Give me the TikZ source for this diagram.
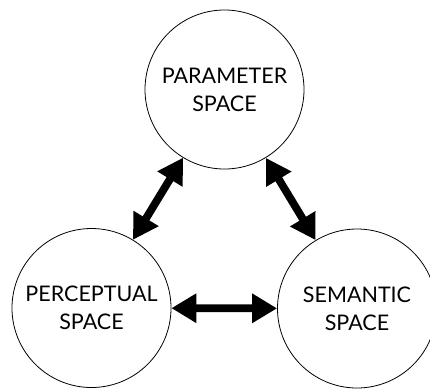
\documentclass[tikz,border=0pt]{standalone}
\usepackage{fontspec}
\setmainfont{Lato}
\usetikzlibrary{arrows.meta}
\begin{document}
\begin{tikzpicture}[x=1pt,y=-1pt,
  space/.style={circle,draw=black,line width=0.8pt,minimum size=159pt,inner sep=0pt,
    align=center,font=\fontsize{21.5}{28}\selectfont},
  bigarrow/.style={line width=7.8pt,{Triangle[width=28pt,length=25pt]}-{Triangle[width=28pt,length=25pt]}}]
\useasboundingbox (0,0) rectangle (430,389);
\clip (0,0) rectangle (430,389);
\node[space] (par) at (224.5,89.5) {PARAMETER\\SPACE};
\node[space] (per) at (91.5,308) {PERCEPTUAL\\SPACE};
\node[space] (sem) at (357,308.5) {SEMANTIC\\SPACE};
\draw[bigarrow] (par) -- (per);
\draw[bigarrow] (par) -- (sem);
\draw[bigarrow] (per) -- (sem);
\end{tikzpicture}
\end{document}
